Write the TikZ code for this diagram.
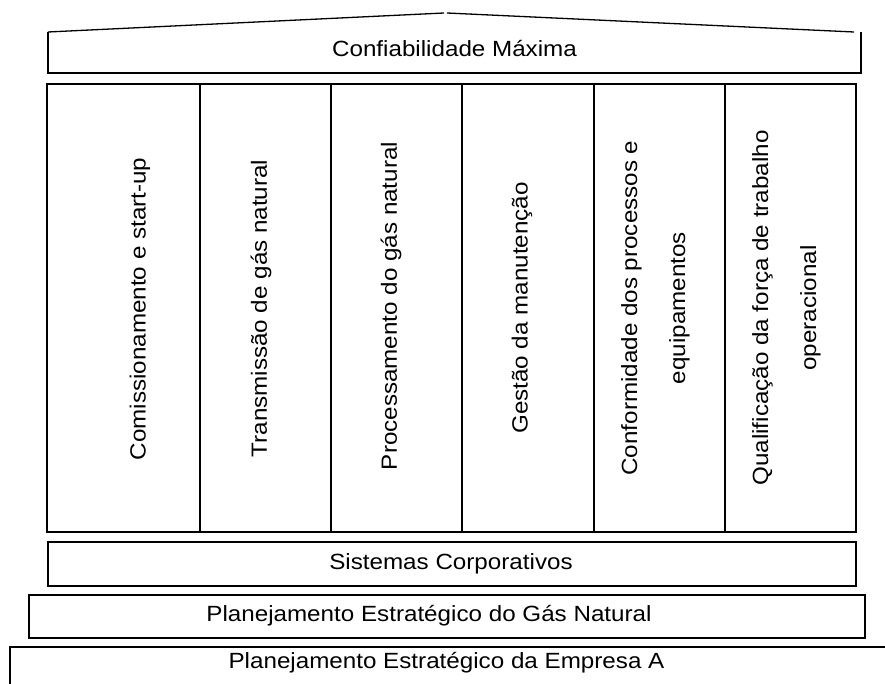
\documentclass[tikz,border=0pt]{standalone}
\usepackage{fontspec}
\setmainfont{Liberation Sans}
\newcommand{\wtxt}[1]{\scalebox{1.1}[1]{#1}}
\begin{document}
\begin{tikzpicture}[x=1pt,y=-1pt,
  frame/.style={draw=black, line width=2pt, inner sep=0pt, minimum width=#1},
  colbox/.style={draw=black, line width=2pt, inner sep=0pt,
    minimum width=#1, minimum height=448pt},
  vlbl/.style={rotate=90, inner sep=0pt, align=center,
    font=\fontsize{22}{48}\selectfont},
  lbl/.style={anchor=base, inner sep=0pt, font=\fontsize{22}{26}\selectfont},
  roof/.style={draw=black, line width=1.3pt}]
\clip (0,0) rectangle (885,684);

% top beam (roof sides and open top)
\coordinate (tl) at (48,32);
\coordinate (tr) at (861,32);
\coordinate (bl) at (48,73);
\coordinate (br) at (861,73);
\draw[line width=2pt] (tl) -- (bl) -- (br) -- (tr);
\coordinate (apexL) at (444,13);
\coordinate (apexR) at (447,13);
\coordinate (roofR) at (854,32);
\draw[roof] (tl) -- (apexL);
\draw[roof] (apexR) -- (roofR);
\node[lbl] (top) at (454.5,57) {\wtxt{Confiabilidade Máxima}};

% pillars
\node[colbox=153pt] (c1) at (123.5,308) {};
\node[colbox=131pt] (c2) at (265.5,308) {};
\node[colbox=131pt] (c3) at (396.5,308) {};
\node[colbox=132pt] (c4) at (528,308) {};
\node[colbox=131pt] (c5) at (659.5,308) {};
\node[colbox=131pt] (c6) at (790.5,308) {};

\node[vlbl] (t1) at (140,309) {\wtxt{Comissionamento e start-up}};
\node[vlbl] (t2) at (261,308.5) {\wtxt{Transmissão de gás natural}};
\node[vlbl] (t3) at (391,306) {\wtxt{Processamento do gás natural}};
\node[vlbl] (t4) at (522,308) {\wtxt{Gestão da manutenção}};
\node[vlbl] (t5) at (655.5,308) {\wtxt{Conformidade dos processos e}\\\wtxt{equipamentos}};
\node[vlbl] (t6) at (786.5,308) {\wtxt{Qualificação da força de trabalho}\\\wtxt{operacional}};

% foundation layers
\node[frame=808pt, minimum height=44pt] (sis) at (452,564) {};
\node[lbl] (sisT) at (451,569) {\wtxt{Sistemas Corporativos}};

\node[frame=836pt, minimum height=43pt] (gn) at (447,616.5) {};
\node[lbl] (gnT) at (429,621) {\wtxt{Planejamento Estratégico do Gás Natural}};

\node[frame=900pt, minimum height=44pt] (emp) at (460,669) {};
\node[lbl] (empT) at (446.5,668) {\wtxt{Planejamento Estratégico da Empresa A}};
\end{tikzpicture}
\end{document}
